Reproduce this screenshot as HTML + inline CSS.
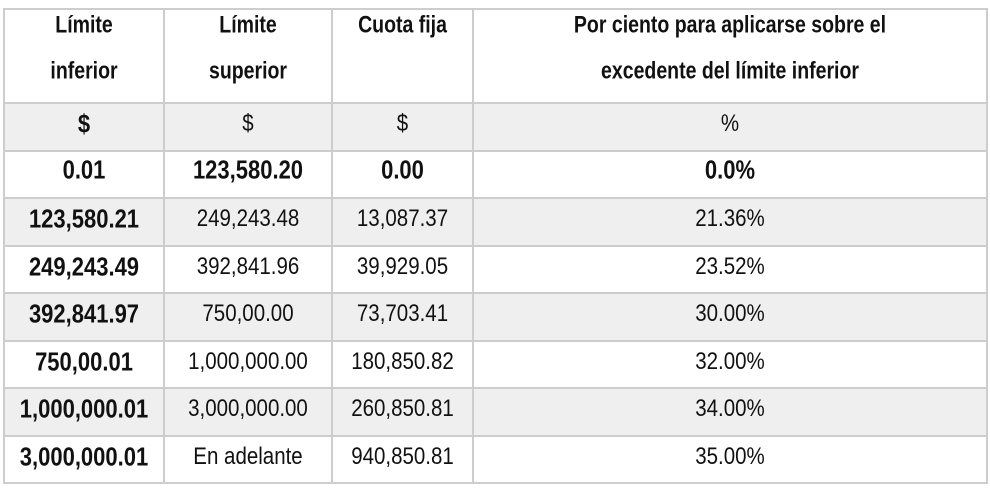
<!DOCTYPE html>
<html><head><meta charset="utf-8"><style>
html,body{margin:0;padding:0;background:#fff;width:990px;height:488px;overflow:hidden}
table{position:absolute;left:3px;top:8px;border-collapse:collapse;font-family:"Liberation Sans",Arial,sans-serif;color:#111;table-layout:fixed}
td{border:2px solid #cdcdcd;text-align:center;padding:0;vertical-align:top;overflow:hidden}
td span{display:inline-block;transform:scaleY(1.18)}
tr.h td{height:92px;font-weight:bold;font-size:19.5px;line-height:46px;padding-top:0}
tr.h td span{transform:scaleY(1.22);position:relative;top:-8px}
tr.r td{height:45.5px;line-height:40px;font-size:20.5px}
tr.g td{background:#efefef}
.b{font-weight:bold;font-size:22px!important}
.b0 td{font-weight:bold;font-size:22px!important}
.b0 td span{position:relative;top:-2px}
</style></head><body>
<table>
<colgroup><col style="width:160px"><col style="width:168px"><col style="width:141px"><col style="width:514px"></colgroup>
<tr class="h"><td><span>Límite</span><br><span>inferior</span></td><td><span>Límite</span><br><span>superior</span></td><td><span>Cuota fija</span></td><td><span>Por ciento para aplicarse sobre el</span><br><span>excedente del límite inferior</span></td></tr>
<tr class="r g"><td class="b"><span>$</span></td><td><span>$</span></td><td><span>$</span></td><td><span>%</span></td></tr>
<tr class="r b0"><td><span>0.01</span></td><td><span>123,580.20</span></td><td><span>0.00</span></td><td><span>0.0%</span></td></tr>
<tr class="r g"><td class="b"><span>123,580.21</span></td><td><span>249,243.48</span></td><td><span>13,087.37</span></td><td><span>21.36%</span></td></tr>
<tr class="r"><td class="b"><span>249,243.49</span></td><td><span>392,841.96</span></td><td><span>39,929.05</span></td><td><span>23.52%</span></td></tr>
<tr class="r g"><td class="b"><span>392,841.97</span></td><td><span>750,00.00</span></td><td><span>73,703.41</span></td><td><span>30.00%</span></td></tr>
<tr class="r"><td class="b"><span>750,00.01</span></td><td><span>1,000,000.00</span></td><td><span>180,850.82</span></td><td><span>32.00%</span></td></tr>
<tr class="r g"><td class="b"><span>1,000,000.01</span></td><td><span>3,000,000.00</span></td><td><span>260,850.81</span></td><td><span>34.00%</span></td></tr>
<tr class="r"><td class="b"><span>3,000,000.01</span></td><td><span>En adelante</span></td><td><span>940,850.81</span></td><td><span>35.00%</span></td></tr>
</table>
</body></html>
